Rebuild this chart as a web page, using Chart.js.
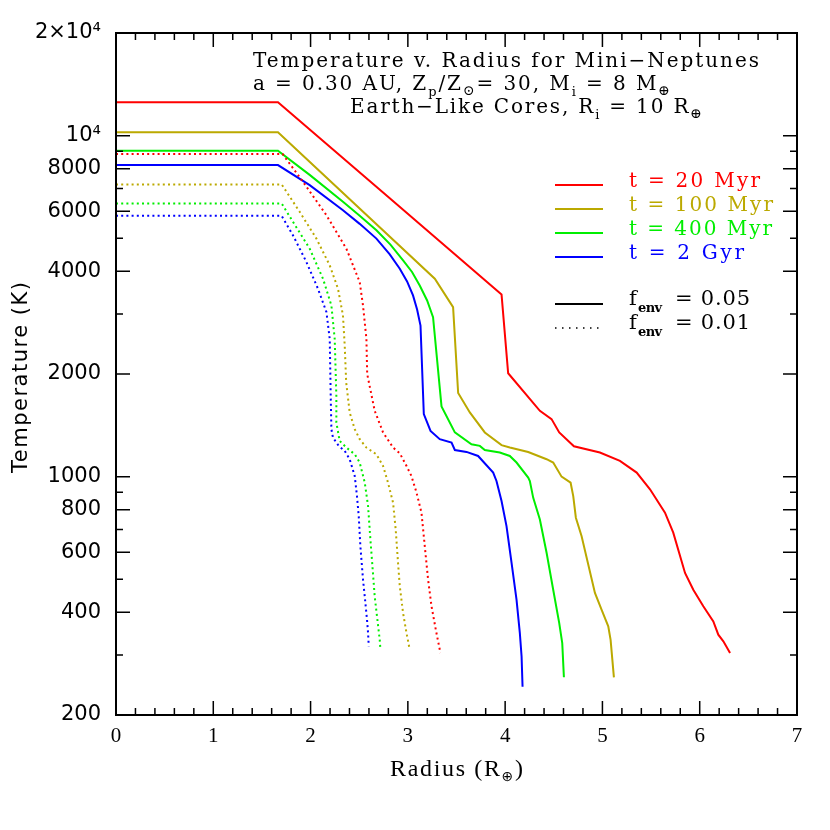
<!DOCTYPE html>
<html><head><meta charset="utf-8">
<script src="https://cdn.jsdelivr.net/npm/chart.js@4.4.1/dist/chart.umd.min.js"></script>
<style>html,body{margin:0;padding:0;background:#fff}#wrap{width:830px;height:830px}</style>
</head><body><div id="wrap"><canvas id="c" width="830" height="830"></canvas></div>
<script>
// ---------- data ----------
// t = 20 Myr, f_env = 0.05
const r20Myr05 = [0, 1.665, 2.814, 3.963, 4.031, 4.357, 4.477, 4.556, 4.707, 4.974, 5.180, 5.352, 5.489, 5.643, 5.728, 5.849, 5.934, 6.037, 6.140, 6.191, 6.243, 6.312];
const T20Myr05 = [12530, 12530, 6551, 3421, 2010, 1560, 1475, 1348, 1228, 1177, 1112, 1028, 918, 784, 685, 522, 466, 417, 376, 344, 329, 304];
// t = 100 Myr, f_env = 0.05
const r100Myr05 = [0, 1.665, 3.277, 3.465, 3.517, 3.637, 3.791, 3.963, 4.048, 4.237, 4.426, 4.494, 4.580, 4.673, 4.700, 4.727, 4.786, 4.923, 4.992, 5.060, 5.084, 5.118];
const T100Myr05 = [10230, 10230, 3805, 3142, 1759, 1543, 1348, 1237, 1217, 1181, 1125, 1100, 1000, 960, 877, 758, 669, 456, 407, 364, 332, 258];
// t = 400 Myr, f_env = 0.05
const r400Myr05 = [0, 1.665, 1.994, 2.333, 2.505, 2.677, 2.821, 2.951, 3.043, 3.122, 3.198, 3.259, 3.346, 3.483, 3.654, 3.740, 3.791, 3.945, 4.048, 4.117, 4.237, 4.254, 4.288, 4.357, 4.426, 4.494, 4.556, 4.587, 4.604];
const T400Myr05 = [9036, 9036, 7660, 6398, 5820, 5279, 4791, 4308, 3983, 3637, 3286, 2937, 1607, 1348, 1245, 1231, 1197, 1177, 1150, 1100, 994, 971, 868, 749, 598, 466, 372, 325, 258];
// t = 2 Gyr, f_env = 0.05
const r2Gyr05 = [0, 1.665, 1.991, 2.333, 2.505, 2.677, 2.814, 2.917, 2.992, 3.053, 3.095, 3.130, 3.164, 3.233, 3.328, 3.449, 3.483, 3.603, 3.722, 3.877, 3.911, 3.963, 4.014, 4.066, 4.117, 4.151, 4.169, 4.179];
const T2Gyr05 = [8199, 8199, 7158, 6044, 5512, 4990, 4486, 4072, 3737, 3399, 3092, 2774, 1526, 1362, 1288, 1259, 1197, 1182, 1150, 1028, 971, 848, 716, 559, 436, 348, 297, 242];
// t = 20 Myr, f_env = 0.01
const r20Myr01 = [0, 1.713, 1.922, 2.163, 2.368, 2.505, 2.539, 2.574, 2.582, 2.659, 2.745, 2.848, 2.917, 2.986, 3.037, 3.089, 3.140, 3.174, 3.208, 3.243, 3.287, 3.335];
const T20Myr01 = [8831, 8831, 7324, 5843, 4662, 3721, 3176, 2535, 2000, 1561, 1348, 1217, 1171, 1075, 1004, 898, 784, 625, 499, 417, 356, 304];
// t = 100 Myr, f_env = 0.01
const r100Myr01 = [0, 1.703, 1.888, 2.060, 2.197, 2.282, 2.333, 2.351, 2.366, 2.402, 2.454, 2.505, 2.574, 2.677, 2.745, 2.796, 2.848, 2.875, 2.899, 2.917, 2.951, 2.986, 3.019];
const T100Myr01 = [7194, 7194, 5979, 4990, 4164, 3557, 2969, 2423, 1891, 1543, 1378, 1288, 1217, 1163, 1075, 960, 839, 700, 559, 477, 398, 348, 311];
// t = 400 Myr, f_env = 0.01
const r400Myr01 = [0, 1.703, 1.819, 1.991, 2.128, 2.214, 2.248, 2.265, 2.265, 2.299, 2.368, 2.454, 2.505, 2.557, 2.591, 2.615, 2.636, 2.659, 2.683, 2.711, 2.718];
const T400Myr01 = [6325, 6325, 5588, 4662, 3805, 3176, 2535, 1727, 1442, 1273, 1217, 1163, 1100, 960, 820, 654, 546, 446, 389, 332, 311];
// t = 2 Gyr, f_env = 0.01
const r2Gyr01 = [0, 1.703, 1.819, 1.957, 2.076, 2.163, 2.197, 2.207, 2.214, 2.230, 2.289, 2.351, 2.402, 2.454, 2.477, 2.495, 2.512, 2.539, 2.560, 2.580, 2.591, 2.598];
const T2Gyr01 = [5820, 5820, 5104, 4261, 3557, 3038, 2535, 1727, 1378, 1302, 1231, 1190, 1125, 1004, 877, 766, 625, 499, 436, 381, 348, 318];

const ageLabels = ['t = 20 Myr', 't = 100 Myr', 't = 400 Myr', 't = 2 Gyr'];
const fenvValues = ['0.05', '0.01'];
const xTickValues = [0, 1, 2, 3, 4, 5, 6, 7];
const yMajorTicks = [200, 400, 600, 800, 1000, 2000, 4000, 6000, 8000, 10000, 20000];
const yMajorLabels = ['200', '400', '600', '800', '1000', '2000', '4000', '6000', '8000', '10⁴', '2×10⁴'];
const yMinorTicks = [300, 500, 700, 900, 3000, 5000, 7000, 9000];

// ---------- styling ----------
const ageColors = ['#ff0000', '#bba900', '#00ee00', '#0000ff'];
const pts = (xs, ys) => xs.map((x, i) => ({x: x, y: ys[i]}));
const solidSets = [[r20Myr05, T20Myr05], [r100Myr05, T100Myr05], [r400Myr05, T400Myr05], [r2Gyr05, T2Gyr05]];
const dotSets = [[r20Myr01, T20Myr01], [r100Myr01, T100Myr01], [r400Myr01, T400Myr01], [r2Gyr01, T2Gyr01]];
const datasets = [];
dotSets.forEach((s, i) => datasets.push({
  label: ageLabels[i] + ', f_env = ' + fenvValues[1], data: pts(s[0], s[1]),
  borderColor: ageColors[i], borderWidth: 2, borderDash: [2, 3.2], pointRadius: 0, tension: 0, fill: false
}));
solidSets.forEach((s, i) => datasets.push({
  label: ageLabels[i] + ', f_env = ' + fenvValues[0], data: pts(s[0], s[1]),
  borderColor: ageColors[i], borderWidth: 2, pointRadius: 0, tension: 0, fill: false
}));

function drawRich(ctx, segs, x, y, targetW, color) {
  ctx.save();
  ctx.fillStyle = color; ctx.textBaseline = 'alphabetic'; ctx.textAlign = 'left';
  ctx.letterSpacing = '0px';
  let w0 = 0, n = 0;
  for (const s of segs) { ctx.font = s.f; w0 += ctx.measureText(s.t).width; n += [...s.t].length; }
  const ls = targetW ? (targetW - w0) / Math.max(1, n - 1) : 0;
  let cx = x;
  for (const s of segs) {
    ctx.font = s.f;
    ctx.letterSpacing = '0px';
    const w = ctx.measureText(s.t).width;
    ctx.letterSpacing = ls + 'px';
    ctx.fillText(s.t, cx, y + (s.dy || 0));
    cx += w + [...s.t].length * ls;
  }
  ctx.restore();
}

const SERIF = '"DejaVu Serif", "Liberation Serif", serif';
const F = (sz, b) => (b ? 'bold ' : '') + sz + 'px ' + SERIF;

const decorPlugin = {
  id: 'decor',
  afterDraw(chart) {
    const ctx = chart.ctx, a = chart.chartArea;
    const xs = chart.scales.x, ys = chart.scales.y;
    ctx.save();
    // frame
    ctx.strokeStyle = '#000'; ctx.lineWidth = 2;
    ctx.strokeRect(a.left, a.top, a.right - a.left, a.bottom - a.top);
    // ticks (inside, all four sides)
    ctx.lineWidth = 1.5;
    ctx.beginPath();
    const xMinor = [];
    for (let i = 0; i <= 35; i++) if (i % 5) xMinor.push(i / 5);
    const xt = (v, L) => { const p = xs.getPixelForValue(v); ctx.moveTo(p, a.bottom); ctx.lineTo(p, a.bottom - L); ctx.moveTo(p, a.top); ctx.lineTo(p, a.top + L); };
    const yt = (v, L) => { const p = ys.getPixelForValue(v); ctx.moveTo(a.left, p); ctx.lineTo(a.left + L, p); ctx.moveTo(a.right, p); ctx.lineTo(a.right - L, p); };
    xTickValues.forEach(v => xt(v, 14));
    xMinor.forEach(v => xt(v, 7));
    yMajorTicks.forEach(v => yt(v, 14));
    yMinorTicks.forEach(v => yt(v, 7));
    ctx.stroke();

    // title block
    drawRich(ctx, [{t: 'Temperature v. Radius for Mini\u2212Neptunes', f: F(20)}], 253, 67, 506, '#000');
    drawRich(ctx, [
      {t: 'a = 0.30 AU, Z', f: F(20)}, {t: 'p', f: F(13), dy: 6}, {t: '/Z', f: F(20)}, {t: '\u2299', f: F(14), dy: 5},
      {t: '= 30, M', f: F(20)}, {t: 'i', f: F(13), dy: 6}, {t: ' = 8 M', f: F(20)}, {t: '\u2295', f: F(14), dy: 5}
    ], 253, 90, 417, '#000');
    drawRich(ctx, [
      {t: 'Earth\u2212Like Cores, R', f: F(20)}, {t: 'i', f: F(13), dy: 6}, {t: ' = 10 R', f: F(20)}, {t: '\u2295', f: F(14), dy: 5}
    ], 350, 113, 352, '#000');

    // legend: ages
    const legY = [185, 209, 233, 257];
    const legW = [131, 144, 143, 115];
    ctx.lineWidth = 2; ctx.setLineDash([]);
    ageLabels.forEach((lab, i) => {
      ctx.strokeStyle = ageColors[i];
      ctx.beginPath(); ctx.moveTo(555, legY[i]); ctx.lineTo(603, legY[i]); ctx.stroke();
      drawRich(ctx, [{t: lab, f: F(20)}], 629, legY[i] + 2, legW[i], ageColors[i]);
    });
    // legend: f_env
    ctx.strokeStyle = '#000'; ctx.lineWidth = 2;
    ctx.beginPath(); ctx.moveTo(555, 304); ctx.lineTo(603, 304); ctx.stroke();
    ctx.lineWidth = 1.5; ctx.setLineDash([1.5, 5.5]);
    ctx.beginPath(); ctx.moveTo(555, 328); ctx.lineTo(603, 328); ctx.stroke();
    ctx.setLineDash([]);
    [[305, fenvValues[0]], [328.5, fenvValues[1]]].forEach(([by, val]) => {
      drawRich(ctx, [{t: 'f', f: F(21)}], 629, by, 0, '#000');
      drawRich(ctx, [{t: 'env', f: F(13, true)}], 638, by + 7, 24, '#000');
      drawRich(ctx, [{t: '= ' + val, f: F(21)}], 675, by, 75, '#000');
    });

    // axis titles
    drawRich(ctx, [{t: 'Radius (R', f: '24px "Liberation Serif", serif'}, {t: '\u2295', f: '14px "DejaVu Sans", sans-serif', dy: 5}, {t: ')', f: '24px "Liberation Serif", serif'}], 390, 776, 133, '#000');
    ctx.save();
    ctx.translate(27, 473); ctx.rotate(-Math.PI / 2);
    drawRich(ctx, [{t: 'Temperature (K)', f: '21px "DejaVu Sans", sans-serif'}], 0, 0, 191, '#000');
    ctx.restore();
    ctx.restore();
  }
};

new Chart(document.getElementById('c'), {
  type: 'line',
  data: {datasets: datasets},
  options: {
    responsive: false, animation: false, devicePixelRatio: 1,
    layout: {padding: {left: 0, top: 33, right: 33, bottom: 0}},
    plugins: {legend: {display: false}, tooltip: {enabled: false}},
    scales: {
      x: {
        type: 'linear', min: 0, max: 7,
        grid: {display: false, drawTicks: false}, border: {display: false},
        afterFit: s => { s.height = 115; },
        afterBuildTicks: s => { s.ticks = xTickValues.map(v => ({value: v})); },
        ticks: {autoSkip: false, maxRotation: 0, padding: 9, color: '#000',
          font: {family: '"Liberation Serif", serif', size: 21},
          callback: v => String(v)}
      },
      y: {
        type: 'logarithmic', min: 200, max: 20000,
        grid: {display: false, drawTicks: false}, border: {display: false},
        afterFit: s => { s.width = 116; },
        afterBuildTicks: s => { s.ticks = yMajorTicks.map(v => ({value: v})); },
        ticks: {autoSkip: false, padding: 15, color: '#000',
          font: {family: '"DejaVu Sans", sans-serif', size: 21},
          callback: v => { const i = yMajorTicks.indexOf(v); return i >= 0 ? yMajorLabels[i] : ''; }}
      }
    }
  },
  plugins: [decorPlugin]
});
</script>
</body></html>
